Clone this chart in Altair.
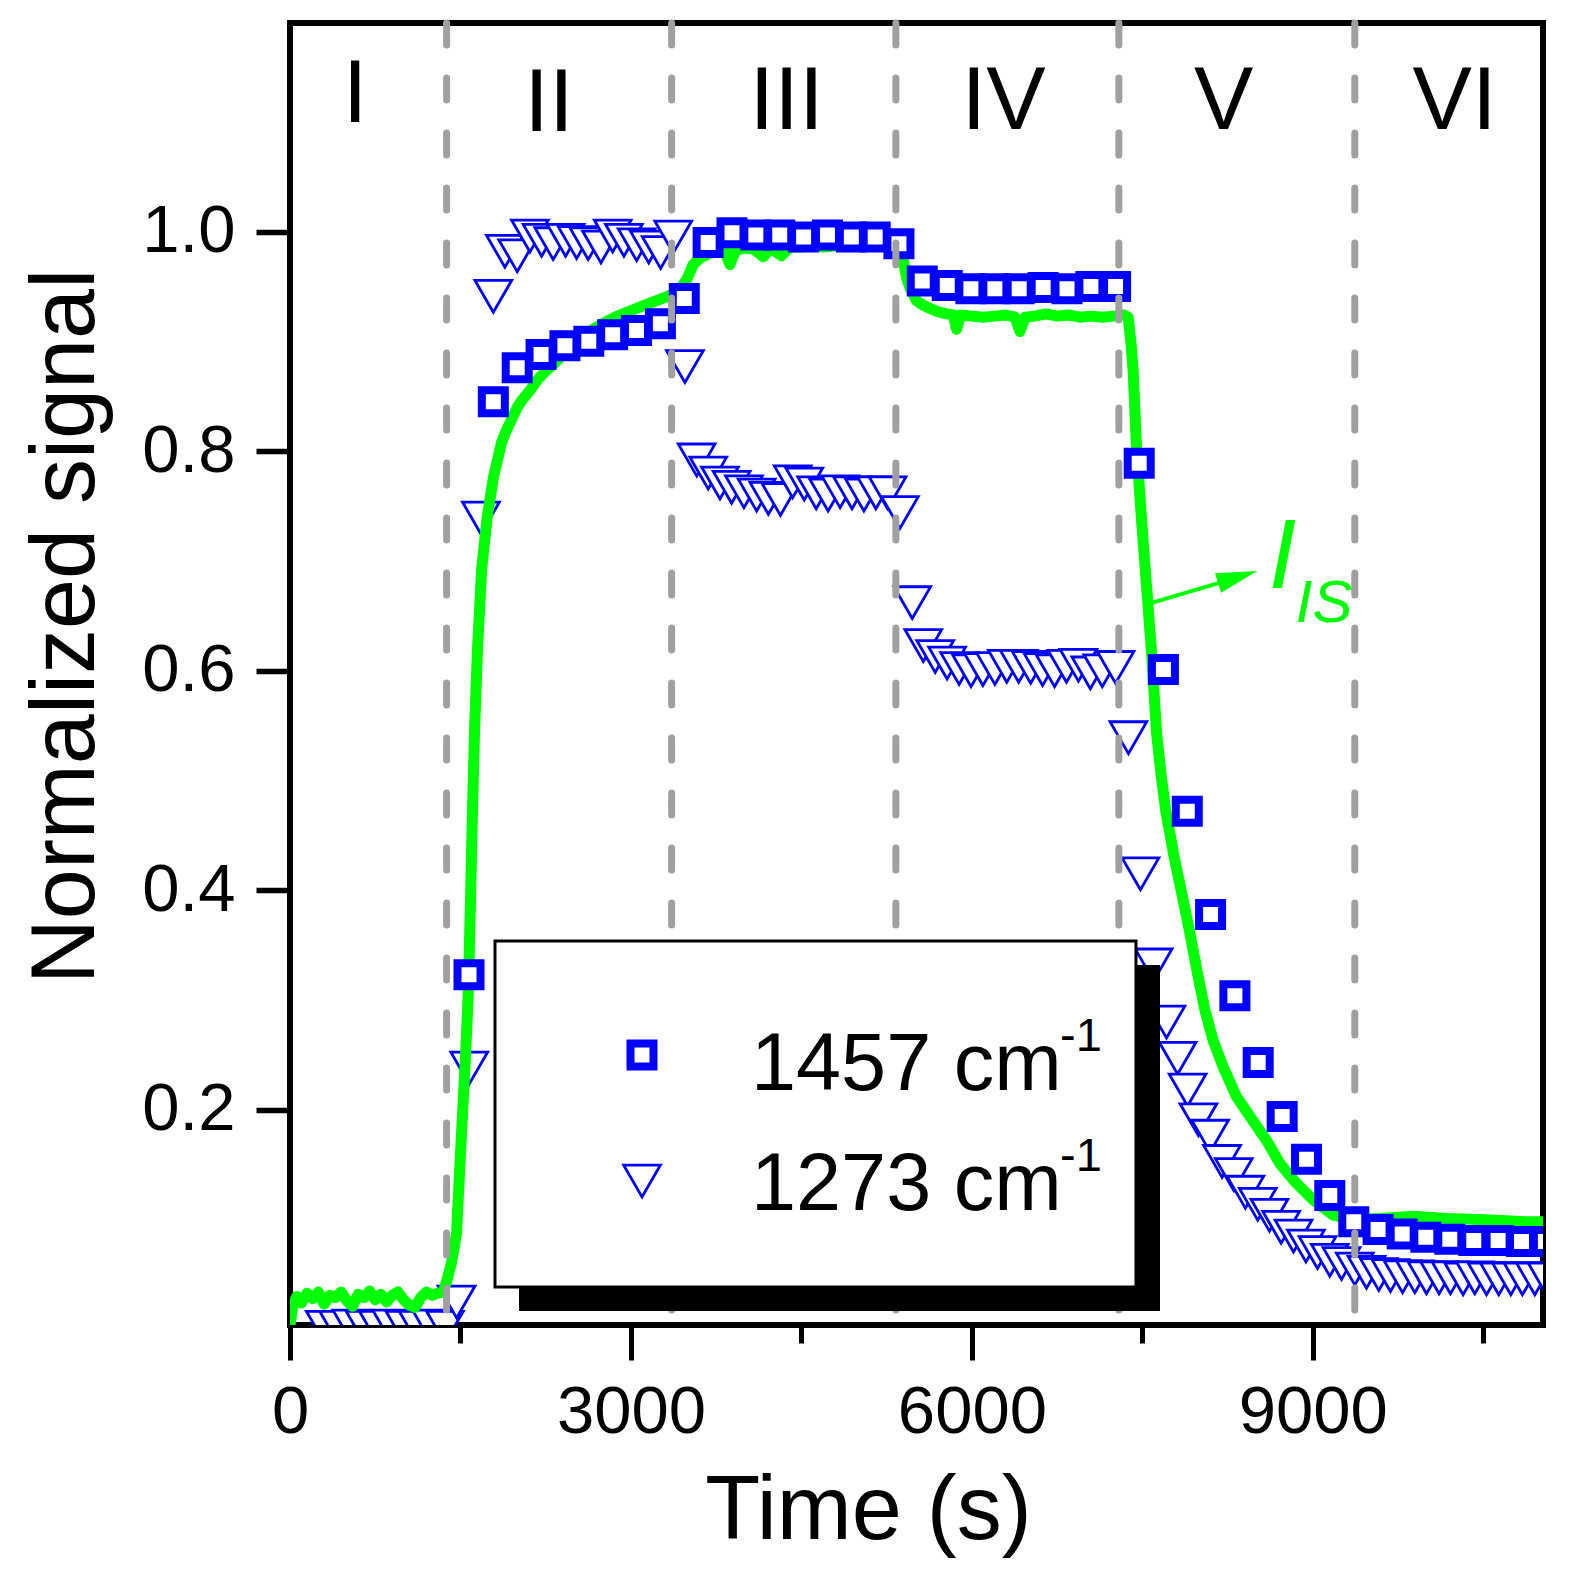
import altair as alt
import pandas as pd

# time (s) and normalized signal
sq_t = [1575, 1789, 1999, 2209, 2419, 2629, 2839, 3049, 3259, 3469,
        3679, 3889, 4099, 4309, 4519, 4729, 4939, 5149, 5358,
        5563, 5783, 5991, 6202, 6416, 6627, 6837, 7047, 7264,
        7472, 7685, 7895, 8100, 8314, 8519, 8730, 8944, 9149, 9360,
        9574, 9786, 9994, 10205, 10416, 10630, 10836, 11046]
sq_s = [0.323, 0.845, 0.876, 0.888, 0.896, 0.900, 0.906, 0.910, 0.916, 0.939,
        0.990, 0.999, 0.997, 0.997, 0.995, 0.997, 0.995, 0.995, 0.989,
        0.955, 0.951, 0.948, 0.948, 0.948, 0.949, 0.948, 0.950, 0.950,
        0.789, 0.601, 0.472, 0.378, 0.304, 0.243, 0.194, 0.155, 0.122, 0.098,
        0.091, 0.087, 0.084, 0.082, 0.081, 0.081, 0.080, 0.080]

tri_t = [306, 423, 540, 656, 773, 890, 1006, 1123, 1240, 1363,
         1466, 1577, 1680, 1789,
         1891, 1999, 2111, 2214, 2316, 2425, 2522, 2624, 2736, 2839, 2938, 3050, 3156, 3261, 3372,
         3475,
         3578, 3680, 3783, 3886, 3994, 4106, 4209, 4315, 4423, 4525, 4630, 4735, 4840, 4945, 5050, 5155, 5258,
         5366, 5475,
         5572, 5677, 5782, 5887, 5992, 6097, 6202, 6307, 6412, 6517, 6622, 6727, 6832, 6937, 7042, 7147, 7264,
         7377, 7483, 7599, 7712, 7810, 7898, 7993, 8096, 8201, 8304, 8406, 8515, 8618, 8721, 8830, 8939,
         9041, 9149, 9252, 9369, 9472, 9580, 9683, 9789, 9897, 10000, 10111, 10211, 10322, 10425,
         10528, 10636, 10742, 10844, 10953, 11056]
tri_s = [0.002, 0.002, 0.003, 0.002, 0.002, 0.003, 0.002, 0.002, 0.003, 0.002,
         0.025, 0.238, 0.739, 0.941,
         0.982, 0.978, 0.996, 0.992, 0.989, 0.992, 0.990, 0.989, 0.986, 0.996, 0.992, 0.988, 0.986, 0.981, 0.995,
         0.877,
         0.792, 0.780, 0.771, 0.767, 0.763, 0.760, 0.757, 0.756, 0.772, 0.770, 0.762, 0.760, 0.763, 0.762, 0.760, 0.762, 0.762,
         0.744, 0.662,
         0.623, 0.613, 0.607, 0.602, 0.600, 0.601, 0.602, 0.604, 0.604, 0.603, 0.601, 0.600, 0.604, 0.605, 0.598, 0.600, 0.603,
         0.539, 0.415, 0.332, 0.280, 0.247, 0.218, 0.191, 0.176, 0.153, 0.141, 0.125, 0.114, 0.104, 0.093, 0.085, 0.076,
         0.070, 0.063, 0.060, 0.055, 0.052, 0.050, 0.049, 0.048, 0.048, 0.047, 0.047, 0.047, 0.046, 0.047,
         0.046, 0.046, 0.046, 0.046, 0.046, 0.046]

is_t = [0, 25, 60, 100, 150, 200, 250, 300, 350, 400, 450, 500, 550, 600, 650, 700,
        750, 800, 850, 900, 950, 1000, 1050, 1100, 1150, 1200, 1250, 1300, 1350,
        1384, 1422, 1466, 1490, 1515, 1545, 1570, 1590, 1605, 1625, 1650, 1686, 1735,
        1790, 1862, 1900, 1950, 2000, 2053, 2110, 2170, 2240, 2317, 2390, 2463, 2560,
        2669, 2780, 2903, 3050, 3196, 3300, 3372, 3440, 3490, 3548, 3610, 3666,
        3750, 3820, 3871, 3920, 4000, 4080, 4164, 4230, 4325, 4400, 4500, 4600, 4700,
        4800, 4900, 5000, 5100, 5200, 5300, 5340,
        5366, 5396, 5425, 5454, 5513, 5570, 5630, 5700, 5780, 5836, 5865, 5900, 6000,
        6100, 6200, 6300, 6380, 6422, 6470, 6550, 6650, 6750, 6850, 6950, 7050, 7150,
        7250, 7340, 7375,
        7400, 7419, 7448, 7493, 7537, 7581, 7625, 7665, 7706, 7780, 7859, 7918, 7991,
        8050, 8123, 8211, 8328, 8446, 8593, 8710, 8856, 9003, 9179, 9355, 9589, 9882,
        10176, 10469, 10880, 11025]
is_s = [0.004, 0.022, 0.030, 0.024, 0.033, 0.028, 0.034, 0.023, 0.031, 0.029, 0.034, 0.026, 0.021, 0.032, 0.029, 0.035,
        0.027, 0.032, 0.025, 0.031, 0.034, 0.027, 0.022, 0.020, 0.029, 0.034, 0.031, 0.033, 0.034,
        0.046, 0.061, 0.088, 0.140, 0.190, 0.250, 0.310, 0.400, 0.470, 0.550, 0.620, 0.692, 0.740,
        0.776, 0.808, 0.818, 0.829, 0.840, 0.848, 0.855, 0.864, 0.872, 0.879, 0.887, 0.893, 0.903,
        0.911, 0.918, 0.924, 0.930, 0.936, 0.940, 0.943, 0.949, 0.956, 0.970, 0.976, 0.979,
        0.982, 0.984, 0.970, 0.983, 0.985, 0.984, 0.977, 0.985, 0.978, 0.986, 0.986, 0.987, 0.986,
        0.987, 0.987, 0.988, 0.987, 0.988, 0.988, 0.987,
        0.985, 0.974, 0.958, 0.949, 0.937, 0.933, 0.930, 0.927, 0.925, 0.924, 0.911, 0.924, 0.923,
        0.922, 0.923, 0.924, 0.922, 0.909, 0.922, 0.923, 0.925, 0.923, 0.924, 0.922, 0.923, 0.922,
        0.923, 0.924, 0.922,
        0.898, 0.873, 0.804, 0.737, 0.676, 0.616, 0.543, 0.505, 0.472, 0.430, 0.391, 0.361, 0.321,
        0.291, 0.263, 0.239, 0.212, 0.194, 0.172, 0.151, 0.133, 0.118, 0.104, 0.100, 0.101, 0.103,
        0.101, 0.100, 0.098, 0.098]

# step boundaries and step labels
step_t = [1378, 3358, 5331, 7293, 9369]
roman = ['I', 'II', 'III', 'IV', 'V', 'VI']
roman_t = [572, 2279, 4370, 6279, 8215, 10247]
roman_s = [1.100, 1.092, 1.093, 1.093, 1.093, 1.093]

legend_labels = ['1457 cm', '1273 cm']

FONT = 'Liberation Sans'
BLUE = '#0000FF'
GREEN = '#00FF00'

x_scale = alt.Scale(domain=[0, 11025], nice=False, zero=False)
y_scale = alt.Scale(domain=[0.004, 1.19], nice=False, zero=False)

x_axis = alt.Axis(
    values=[0, 1500, 3000, 4500, 6000, 7500, 9000, 10500],
    format='d',
    labelExpr="datum.value % 3000 === 0 ? datum.label : ''",
    tickSize={'condition': {'test': 'datum.value % 3000 === 0', 'value': 35}, 'value': 18},
    tickWidth=5,
    labelPadding=19,
    labelFlush=False,
    labelOverlap=False,
    title='Time (s)',
    titleX=578,
    titleY=213,
    titleAlign='center',
    titleBaseline='alphabetic',
)
y_axis = alt.Axis(
    values=[0.2, 0.4, 0.6, 0.8, 1.0],
    format='.1f',
    tickSize=34,
    tickWidth=5.5,
    labelPadding=21,
    labelFlush=False,
    title='Normalized signal',
    titleX=-197,
    titleY=603,
    titleAngle=270,
    titleAlign='center',
    titleBaseline='alphabetic',
)

X = alt.X('t:Q', scale=x_scale, axis=x_axis)
Y = alt.Y('s:Q', scale=y_scale, axis=y_axis)

tri = alt.Chart(pd.DataFrame({'t': tri_t, 's': tri_s})).mark_point(
    shape='triangle-down', size=1350, strokeWidth=2.8, stroke=BLUE,
    fill='white', opacity=1, fillOpacity=1, clip=True
).encode(x=X, y=Y)

line = alt.Chart(pd.DataFrame({'t': is_t, 's': is_s})).mark_line(
    color=GREEN, strokeWidth=11, strokeJoin='round', strokeCap='round', clip=True
).encode(x=X, y=Y)

sq = alt.Chart(pd.DataFrame({'t': sq_t, 's': sq_s})).mark_point(
    shape='square', size=529, strokeWidth=8, stroke=BLUE,
    fill='white', opacity=1, fillOpacity=1, clip=True
).encode(x=X, y=Y)

steps = alt.Chart(pd.DataFrame({'t': step_t})).mark_rule(
    color='#A0A0A0', strokeWidth=7, strokeDash=[22, 33], strokeCap='round'
).encode(x=X)

labels = alt.Chart(pd.DataFrame({'t': roman_t, 's': roman_s, 'txt': roman})).mark_text(
    font=FONT, fontSize=89, align='center', baseline='alphabetic', color='black'
).encode(x=X, y=Y, text='txt:N')

# I_IS annotation with arrow
big_i = alt.Chart(pd.DataFrame({'t': [8613], 's': [0.675]})).mark_text(
    text='I', font=FONT, fontSize=99, fontStyle='italic', align='left',
    baseline='alphabetic', color=GREEN
).encode(x=X, y=Y)
sub_is = alt.Chart(pd.DataFrame({'t': [8850], 's': [0.644]})).mark_text(
    text='IS', font=FONT, fontSize=60, fontStyle='italic', align='left',
    baseline='alphabetic', color=GREEN
).encode(x=X, y=Y)
arrow = alt.Chart(pd.DataFrame({'t': [7522], 's': [0.660], 't2': [8340], 's2': [0.685]})).mark_rule(
    color=GREEN, strokeWidth=4
).encode(x=X, y=Y, x2='t2:Q', y2='s2:Q')
head = alt.Chart(pd.DataFrame({'t': [8338], 's': [0.6853]})).mark_point(
    shape='M1,0L-1,-0.5L-1,0.5Z', size=1681, angle=343, filled=True,
    color=GREEN, opacity=1
).encode(x=X, y=Y)

# legend box drawn by hand (framed, with drop shadow)
one = pd.DataFrame({'k': [0]})
shadow = alt.Chart(one).mark_rect(color='black').encode(
    x=alt.value(229), x2=alt.value(870), y=alt.value(942), y2=alt.value(1288))
box = alt.Chart(one).mark_rect(fill='white', stroke='black', strokeWidth=3).encode(
    x=alt.value(205), x2=alt.value(846), y=alt.value(918), y2=alt.value(1264))
leg_sq = alt.Chart(one).mark_point(
    shape='square', size=529, strokeWidth=8, stroke=BLUE, fill='white', opacity=1
).encode(x=alt.value(352), y=alt.value(1032))
leg_tri = alt.Chart(one).mark_point(
    shape='triangle-down', size=1350, strokeWidth=2.8, stroke=BLUE, fill='white', opacity=1
).encode(x=alt.value(352), y=alt.value(1158))
leg_txt = []
for lab, yb in zip(legend_labels, [1067, 1187]):
    leg_txt.append(alt.Chart(one).mark_text(
        text=lab, font=FONT, fontSize=81, align='left', baseline='alphabetic', color='black'
    ).encode(x=alt.value(461), y=alt.value(yb)))
    leg_txt.append(alt.Chart(one).mark_text(
        text='-1', font=FONT, fontSize=47, align='left', baseline='alphabetic', color='black'
    ).encode(x=alt.value(770), y=alt.value(yb - 39)))

chart = alt.layer(
    tri, line, sq, steps, labels, arrow, head, big_i, sub_is,
    shadow, box, leg_sq, leg_tri, *leg_txt
).properties(
    width=1253, height=1302,
    autosize=alt.AutoSizeParams(type='none'),
    padding={'left': 282, 'top': 15, 'right': 20, 'bottom': 250},
).configure_view(
    stroke='black', strokeWidth=6
).configure_axis(
    labelFont=FONT, titleFont=FONT, labelFontSize=67, titleFontSize=90,
    titleFontWeight='normal', labelColor='black', titleColor='black',
    tickColor='black', domain=False, grid=False
)

chart.save("out.html", embed_options={"renderer": "svg", "actions": False})
